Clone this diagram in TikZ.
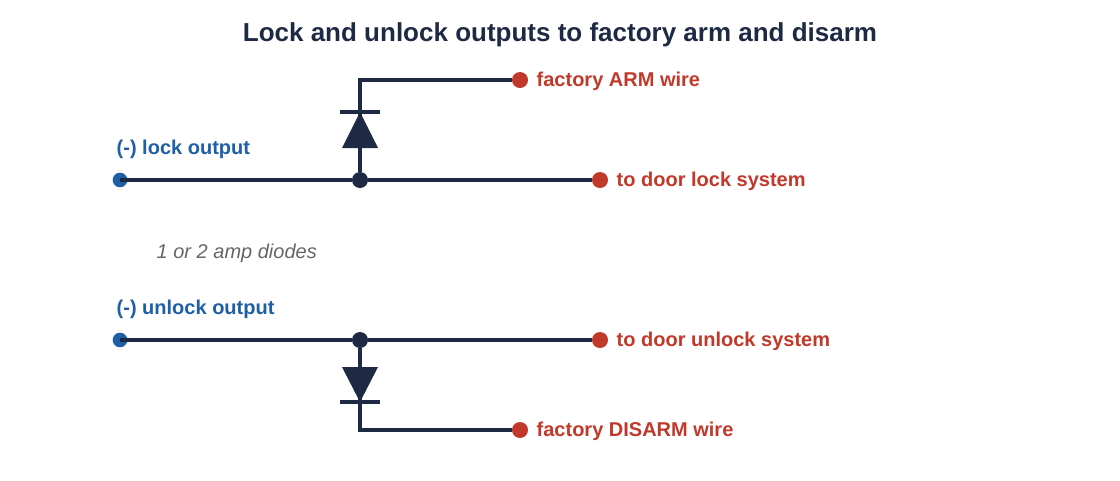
\documentclass[tikz,border=0pt]{standalone}
\usepackage{fontspec}
\setmainfont{Liberation Sans}
\begin{document}
\begin{tikzpicture}[x=0.75pt,y=-0.75pt,
  wire/.style={draw=navy,line width=3pt},
  reddot/.style={circle,fill=wred,inner sep=0,minimum size=12pt},
  bluedot/.style={circle,fill=wblue,inner sep=0,minimum size=11pt},
  jdot/.style={circle,fill=navy,inner sep=0,minimum size=12pt},
  rlab/.style={anchor=west,text=wred,font=\bfseries\fontsize{15}{18}\selectfont},
  blab/.style={anchor=west,text=wblue,font=\bfseries\fontsize{15}{18}\selectfont}]
\definecolor{navy}{HTML}{1E2A44}
\definecolor{wred}{HTML}{C0392B}
\definecolor{wblue}{HTML}{1F5FA6}
\useasboundingbox (0,0) rectangle (1120,480);
\node[text=navy,font=\bfseries\fontsize{19.5}{23}\selectfont] (title) at (560,35) {Lock and unlock outputs to factory arm and disarm};
% top
\node[bluedot] (a1) at (120,180) {};
\node[jdot] (j1) at (360,180) {};
\node[reddot] (b1) at (600,180) {};
\node[reddot] (c1) at (520,80) {};
\coordinate (k1) at (360,80);
\draw[wire] (a1.center) -- (j1) -- (b1);
\draw[wire] (j1) -- (k1) -- (c1);
\fill[navy] (342,148) -- (378,148) -- (360,112) -- cycle;
\draw[wire] (340,112) -- (380,112);
\node[blab] (l1) at (112,149) {(-) lock output};
\node[rlab] (t1) at (612,181) {to door lock system};
\node[rlab] (t2) at (532,81) {factory ARM wire};
\node[anchor=west,text=gray!80!black,font=\itshape\fontsize{15}{18}\selectfont] (d) at (152,253) {1 or 2 amp diodes};
% bottom
\node[bluedot] (a2) at (120,340) {};
\node[jdot] (j2) at (360,340) {};
\node[reddot] (b2) at (600,340) {};
\node[reddot] (c2) at (520,430) {};
\coordinate (k2) at (360,430);
\draw[wire] (a2.center) -- (j2) -- (b2);
\draw[wire] (j2) -- (k2) -- (c2);
\fill[navy] (342,367) -- (378,367) -- (360,402) -- cycle;
\draw[wire] (340,402) -- (380,402);
\node[blab] (l2) at (112,309) {(-) unlock output};
\node[rlab] (t3) at (612,341) {to door unlock system};
\node[rlab] (t4) at (532,431) {factory DISARM wire};
\end{tikzpicture}
\end{document}
